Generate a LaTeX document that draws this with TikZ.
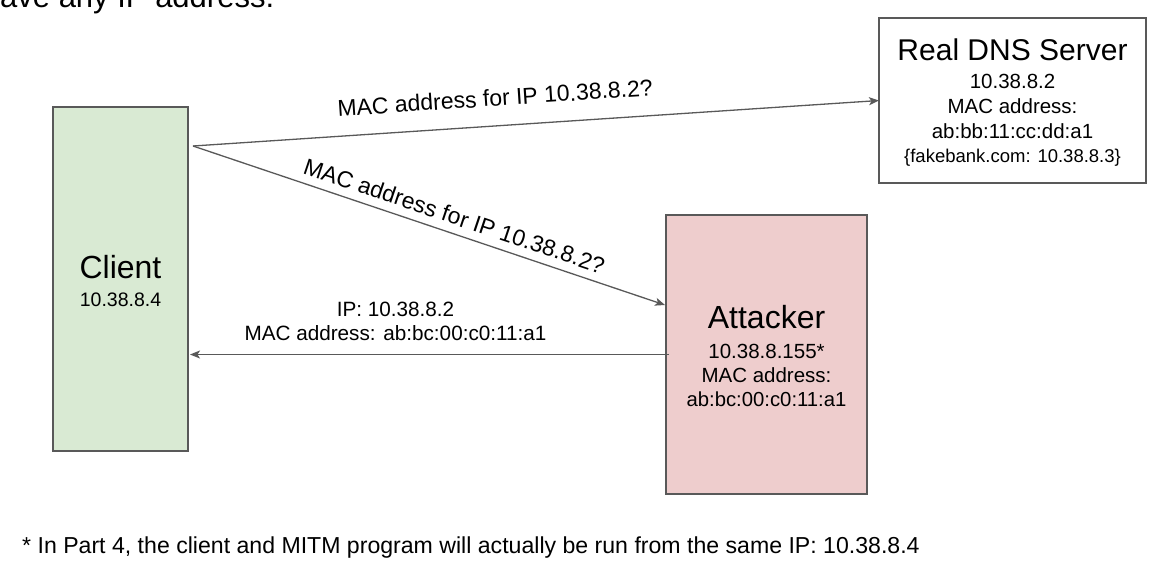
\documentclass[tikz,border=0pt]{standalone}
\usepackage{fontspec}
\setmainfont{Liberation Sans}
\usetikzlibrary{arrows.meta}
\definecolor{clientfill}{HTML}{D9EAD3}
\definecolor{attfill}{HTML}{EECDCD}
\definecolor{edgegray}{HTML}{595959}
\newcommand{\myfs}[1]{\fontsize{#1pt}{#1pt}\selectfont}
\newcommand{\myfsl}[2]{\fontsize{#1pt}{#2pt}\selectfont}
\begin{document}
\begin{tikzpicture}[x=1pt,y=-1pt,
  box/.style={draw=edgegray, line width=1.5pt, inner sep=0pt, outer sep=0pt},
  txt/.style={inner sep=0pt, anchor=base},
  arr/.style={draw=edgegray, line width=1.3pt, -{Stealth[length=10pt,width=8pt,inset=2.5pt]}},
  lbl/.style={inner sep=0pt, sloped}]
\useasboundingbox (0,0) rectangle (1158,574);
\clip (0,0) rectangle (1158,574);
\fill[white] (0,0) rectangle (1158,574);

% cut-off text at top
\node[inner sep=0pt, anchor=base west, font=\myfs{31}] (toptxt) at (0,7) {ave any IP address.};

% boxes
\node[box, fill=clientfill, minimum width=135pt, minimum height=344pt] (client) at (120.5,279) {};
\node[box, fill=white, minimum width=267pt, minimum height=165pt] (dns) at (1012.5,100.5) {};
\node[box, fill=attfill, minimum width=201pt, minimum height=279pt] (att) at (766.5,354.5) {};

% client text
\node[txt, font=\myfs{32}] (clientT) at (120.5,278) {Client};
\node[txt, font=\myfs{19.5}] (clientIP) at (120.5,306) {10.38.8.4};

% dns text
\node[txt, font=\myfs{30}] (dnsT) at (1012.5,60) {Real DNS Server};
\node[txt, font=\myfs{20.5}] (dnsIP) at (1012.5,88) {10.38.8.2};
\node[txt, font=\myfs{20.5}] (dnsM) at (1012.5,113) {MAC address:};
\node[txt, font=\myfs{20.5}] (dnsMac) at (1012.5,138) {ab:bb:11:cc:dd:a1};
\node[txt, font=\myfs{18.5}] (dnsRec) at (1012.5,162) {\{fakebank.com: 10.38.8.3\}};

% attacker text
\node[txt, font=\myfs{32}] (attT) at (766.5,328) {Attacker};
\node[txt, font=\myfs{20.5}] (attIP) at (766.5,358) {10.38.8.155*};
\node[txt, font=\myfs{20.5}] (attM) at (766.5,382) {MAC address:};
\node[txt, font=\myfs{20.3}] (attMac) at (766.5,406) {ab:bc:00:c0:11:a1};

% connectors
\coordinate (cq) at (193,146);
\coordinate (rt) at (client.east |- att.west);
\draw[arr] (cq) -- node[lbl, pos=0.443, above=19pt, font=\myfs{23}] (l1) {MAC address for IP 10.38.8.2?} (dns.west);
\draw[arr] (cq) -- node[lbl, pos=0.542, above=8pt, font=\myfs{23}] (l2) {MAC address for IP 10.38.8.2?} ([xshift=-1pt,yshift=49.5pt]att.west);
\draw[arr] ([xshift=3pt]att.west) -- node[pos=0.571, above=13pt, inner sep=0pt, align=center, font=\myfsl{20.7}{24}] (l3) {IP: 10.38.8.2\\MAC address: ab:bc:00:c0:11:a1} ([xshift=2pt]rt);

% footnote
\node[inner sep=0pt, anchor=base west, font=\myfs{23.1}] (foot) at (22,553) {* In Part 4, the client and MITM program will actually be run from the same IP: 10.38.8.4};
\end{tikzpicture}
\end{document}
